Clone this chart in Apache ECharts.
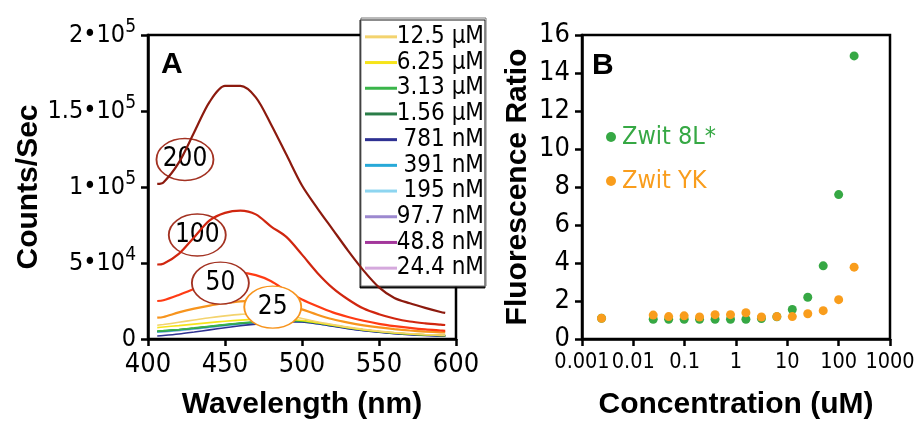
<!DOCTYPE html>
<html>
<head>
<meta charset="utf-8">
<script src="https://cdn.jsdelivr.net/npm/echarts@6/dist/echarts.min.js"></script>
<style>
  html, body { margin: 0; padding: 0; background: #fff; }
  #chart { width: 924px; height: 425px; }
</style>
</head>
<body>
<div id="chart"></div>
<script>
// panel A: emission spectra
const wavelengths = [406, 410, 420, 430, 440, 450, 460, 470, 480, 490, 500, 510, 520, 530, 540, 550, 560, 570, 580, 590, 593];

const s200 = [102000, 103000, 116000, 136000, 156000, 166500, 166500, 159000, 141000, 121000, 101000, 86000, 72000, 58000, 45000, 34000, 27000, 23500, 20500, 17800, 17200];
const s100 = [49000, 49500, 56000, 67000, 78000, 83000, 84500, 82000, 74000, 67000, 55500, 43500, 33500, 26000, 20000, 16300, 13500, 11500, 10300, 9400, 9200];
const s50 = [25000, 25500, 29000, 33000, 38000, 41500, 43500, 42000, 38000, 31500, 26000, 21500, 17500, 14500, 12000, 10000, 8500, 7300, 6300, 5600, 5400];
const s25 = [14000, 14500, 17500, 20000, 22000, 23500, 24700, 25300, 24800, 22500, 19500, 16000, 13000, 10800, 9000, 7600, 6500, 5600, 4900, 4400, 4300];

const c12_5 = [9000, 9500, 11000, 12500, 14000, 15200, 16200, 16800, 16600, 15600, 13500, 11300, 9500, 7800, 6400, 5200, 4300, 3600, 3000, 2600, 2500];
const c6_25 = [7500, 7900, 8800, 9800, 10800, 11700, 12400, 12900, 13100, 13000, 12200, 10700, 9000, 7400, 6000, 4900, 4000, 3300, 2800, 2400, 2300];
const c3_13 = [5200, 5500, 6300, 7300, 8400, 9500, 10500, 11300, 11900, 12200, 11900, 10700, 9100, 7500, 6100, 4900, 4000, 3300, 2700, 2300, 2200];
const c1_56 = [5000, 5300, 6100, 7100, 8200, 9300, 10300, 11100, 11700, 12000, 11700, 10500, 8900, 7300, 6000, 4800, 3900, 3200, 2700, 2300, 2200];
const c781 = [2000, 2300, 3300, 4600, 6000, 7400, 8700, 9800, 10700, 11300, 11200, 10000, 8400, 6800, 5500, 4400, 3500, 2800, 2300, 1900, 1800];
const c391 = [4800, 5100, 5900, 6900, 8000, 9100, 10100, 10900, 11500, 11800, 11500, 10300, 8700, 7100, 5800, 4700, 3800, 3100, 2600, 2200, 2100];
const c195 = [4500, 4800, 5600, 6600, 7700, 8800, 9800, 10600, 11200, 11500, 11300, 10100, 8500, 7000, 5700, 4600, 3700, 3000, 2500, 2100, 2000];
const c97_7 = [4700, 5000, 5800, 6800, 7900, 9000, 10000, 10800, 11400, 11700, 11400, 10200, 8600, 7000, 5700, 4600, 3700, 3000, 2500, 2100, 2000];
const c48_8 = [4900, 5200, 6000, 7000, 8100, 9200, 10200, 11000, 11600, 11900, 11600, 10300, 8700, 7100, 5800, 4700, 3800, 3100, 2600, 2200, 2100];
const c24_4 = [4400, 4700, 5500, 6500, 7600, 8700, 9700, 10500, 11100, 11400, 11200, 10000, 8400, 6900, 5600, 4500, 3600, 2900, 2400, 2000, 1900];

const lowNames = ['12.5 µM', '6.25 µM', '3.13 µM', '1.56 µM', '781 nM', '391 nM', '195 nM', '97.7 nM', '48.8 nM', '24.4 nM'];
const lowData = [c12_5, c6_25, c3_13, c1_56, c781, c391, c195, c97_7, c48_8, c24_4];
const lowColors = ['#f3d36e', '#f6e41a', '#3ab54a', '#2a7d48', '#2e3192', '#27a9d8', '#8dd5f0', '#9c88cf', '#a3379b', '#d5a9dd'];

const highNames = ['25', '50', '100', '200'];
const highData = [s25, s50, s100, s200];
const highColors = ['#f7941d', '#ff3b14', '#d0260f', '#8c1a0e'];
const highBorders = ['#f7941d', '#a33222', '#a33222', '#a33222'];
// where each ellipse label sits, in data units [wavelength, counts]
const highLabelAt = [[481, 21000], [447, 36800], [432, 68400], [424, 118100]];

const yTicksA = [0, 50000, 100000, 150000, 200000];
const yLabelsA = ['0', '5•10{sup|4}', '1•10{sup|5}', '1.5•10{sup|5}', '2•10{sup|5}'];

// panel B: fluorescence ratio
const concentrations = [0.0024, 0.0244, 0.0488, 0.0977, 0.195, 0.391, 0.781, 1.56, 3.13, 6.25, 12.5, 25, 50, 100, 200];
const zwit8L = [1.09, 1.04, 1.04, 1.04, 1.04, 1.04, 1.04, 1.04, 1.08, 1.17, 1.55, 2.2, 3.85, 7.6, 14.9];
const zwitYK = [1.09, 1.26, 1.18, 1.22, 1.16, 1.28, 1.28, 1.38, 1.16, 1.18, 1.18, 1.33, 1.49, 2.07, 3.78];
const xTicksB = [0.001, 0.01, 0.1, 1, 10, 100, 1000];
const xLabelsB = ['0.001', '0.01', '0.1', '1', '10', '100', '1000'];

const NARROW = '"Liberation Sans Narrow", "Arial Narrow", "DejaVu Sans Condensed", sans-serif';
const BOLD = '"Liberation Sans", Arial, sans-serif';
const GREEN = '#36a844';
const ORANGE = '#f99d1c';

const chart = echarts.init(document.getElementById('chart'));

const ellipse = 'path://M0,50A50,50,0,1,1,100,50A50,50,0,1,1,0,50Z';

const series = [];
for (let i = lowData.length - 1; i >= 0; i--) {
  series.push({
    name: lowNames[i],
    type: 'line',
    xAxisIndex: 0, yAxisIndex: 0,
    smooth: 0.3,
    symbol: 'none',
    z: 2,
    data: wavelengths.map((w, j) => [w, lowData[i][j]]),
    itemStyle: { color: lowColors[i] },
    lineStyle: { color: lowColors[i], width: 1.6 }
  });
}
highData.forEach((arr, i) => {
  series.push({
    name: highNames[i],
    type: 'line',
    xAxisIndex: 0, yAxisIndex: 0,
    smooth: 0.3,
    symbol: 'none',
    z: 3 + i,
    data: wavelengths.map((w, j) => [w, arr[j]]),
    lineStyle: { color: highColors[i], width: 2.2 },
    itemStyle: { color: highColors[i] },
    markPoint: {
      symbol: ellipse,
      symbolSize: [57, 42],
      symbolKeepAspect: false,
      silent: true,
      itemStyle: { color: '#fff', borderColor: highBorders[i], borderWidth: 1.6 },
      label: { show: true, position: 'inside', formatter: highNames[i], color: '#000', fontSize: 26, fontFamily: NARROW },
      data: [{ coord: highLabelAt[i] }]
    }
  });
});
series.push({
  name: 'Zwit 8L*', type: 'scatter', xAxisIndex: 1, yAxisIndex: 1,
  symbolSize: 9, itemStyle: { color: GREEN, opacity: 1 }, z: 5,
  data: concentrations.map((c, j) => [c, zwit8L[j]])
});
series.push({
  name: 'Zwit YK', type: 'scatter', xAxisIndex: 1, yAxisIndex: 1,
  symbolSize: 9, itemStyle: { color: ORANGE, opacity: 1 }, z: 6,
  data: concentrations.map((c, j) => [c, zwitYK[j]])
});

const axisLine = { show: true, onZero: false, lineStyle: { color: '#000', width: 2.5 } };
const axisTick = { show: true, inside: false, length: 7, lineStyle: { color: '#000', width: 2.5 } };
const tickFont = { color: '#000', fontSize: 27, fontFamily: NARROW };
const nameFont = { color: '#000', fontSize: 30, fontWeight: 'bold', fontFamily: BOLD };

chart.setOption({
  animation: false,
  backgroundColor: '#fff',
  textStyle: { fontFamily: NARROW },
  grid: [
    { left: 148, top: 35, width: 308, height: 310, show: true, borderColor: '#000', borderWidth: 2.5, backgroundColor: 'transparent' },
    { left: 582, top: 35, width: 308, height: 311, show: true, borderColor: '#000', borderWidth: 2.5, backgroundColor: 'transparent' }
  ],
  xAxis: [
    {
      gridIndex: 0, type: 'value', min: 400, max: 600, interval: 50,
      name: 'Wavelength (nm)', nameLocation: 'middle', nameGap: 51, nameMoveOverlap: false, nameTextStyle: nameFont,
      axisLine, axisTick, splitLine: { show: false },
      axisLabel: Object.assign({ margin: 12, formatter: v => String(v) }, tickFont)
    },
    {
      gridIndex: 1, type: 'log', logBase: 10, min: 0.001, max: 1000, interval: 1, splitNumber: 6,
      name: 'Concentration (uM)', nameLocation: 'middle', nameGap: 51, nameMoveOverlap: false, nameTextStyle: nameFont,
      axisLine, splitLine: { show: false }, minorTick: { show: false },
      axisTick: Object.assign({ customValues: xTicksB }, axisTick),
      axisLabel: Object.assign({
        margin: 12,
        customValues: xTicksB,
        interval: 0,
        showMinLabel: true, showMaxLabel: true, hideOverlap: false,
        formatter: v => xLabelsB[xTicksB.findIndex(t => Math.abs(Math.log10(t) - Math.log10(v)) < 1e-6)]
      }, tickFont, { fontSize: 21.5 })
    }
  ],
  yAxis: [
    {
      gridIndex: 0, type: 'value', min: 0, max: 200000, interval: 50000,
      name: 'Counts/Sec', nameLocation: 'middle', nameGap: 104, nameMoveOverlap: false, nameRotate: 90, nameTextStyle: nameFont,
      axisLine, axisTick, splitLine: { show: false },
      axisLabel: Object.assign({
        margin: 12,
        formatter: v => yLabelsA[yTicksA.indexOf(v)],
        rich: {
          sup: { fontSize: 19, fontFamily: NARROW, color: '#000', padding: [0, 0, 15, 0] }
        }
      }, tickFont, { fontSize: 25 })
    },
    {
      gridIndex: 1, type: 'value', min: 0, max: 16, interval: 2,
      name: 'Fluorescence Ratio', nameLocation: 'middle', nameGap: 49, nameMoveOverlap: false, nameRotate: 90, nameTextStyle: nameFont,
      axisLine, axisTick, splitLine: { show: false },
      axisLabel: Object.assign({ margin: 12 }, tickFont)
    }
  ],
  legend: [
    {
      data: lowNames,
      orient: 'vertical',
      left: 361, top: 18,
      width: 125,
      padding: [6, 2, 5, 4],
      itemGap: 0,
      itemWidth: 32, itemHeight: 3,
      icon: 'rect',
      backgroundColor: '#fff',
      borderColor: '#777', borderWidth: 1,
      shadowColor: 'rgba(0,0,0,0.9)', shadowOffsetX: -1, shadowOffsetY: 2, shadowBlur: 0,
      selectedMode: false,
      formatter: name => '{r|' + name + '}',
      textStyle: {
        color: '#000', fontFamily: NARROW, fontSize: 24, lineHeight: 25.7,
        rich: { r: { width: 82, align: 'right', fontSize: 24, fontFamily: NARROW, lineHeight: 25.7 } }
      }
    },
    {
      data: [
        { name: 'Zwit 8L*', textStyle: { color: GREEN } },
        { name: 'Zwit YK', textStyle: { color: ORANGE } }
      ],
      orient: 'vertical',
      left: 601, top: 117,
      itemGap: 14,
      itemWidth: 10, itemHeight: 10,
      icon: 'circle',
      selectedMode: false,
      textStyle: { fontFamily: NARROW, fontSize: 25, lineHeight: 30, padding: [0, 0, 0, 1] }
    }
  ],
  graphic: [
    { type: 'text', left: 161, top: 50, style: { text: 'A', fill: '#000', font: 'bold 30px ' + BOLD } },
    { type: 'text', left: 592, top: 51, style: { text: 'B', fill: '#000', font: 'bold 30px ' + BOLD } }
  ],
  series
});
</script>
</body>
</html>
